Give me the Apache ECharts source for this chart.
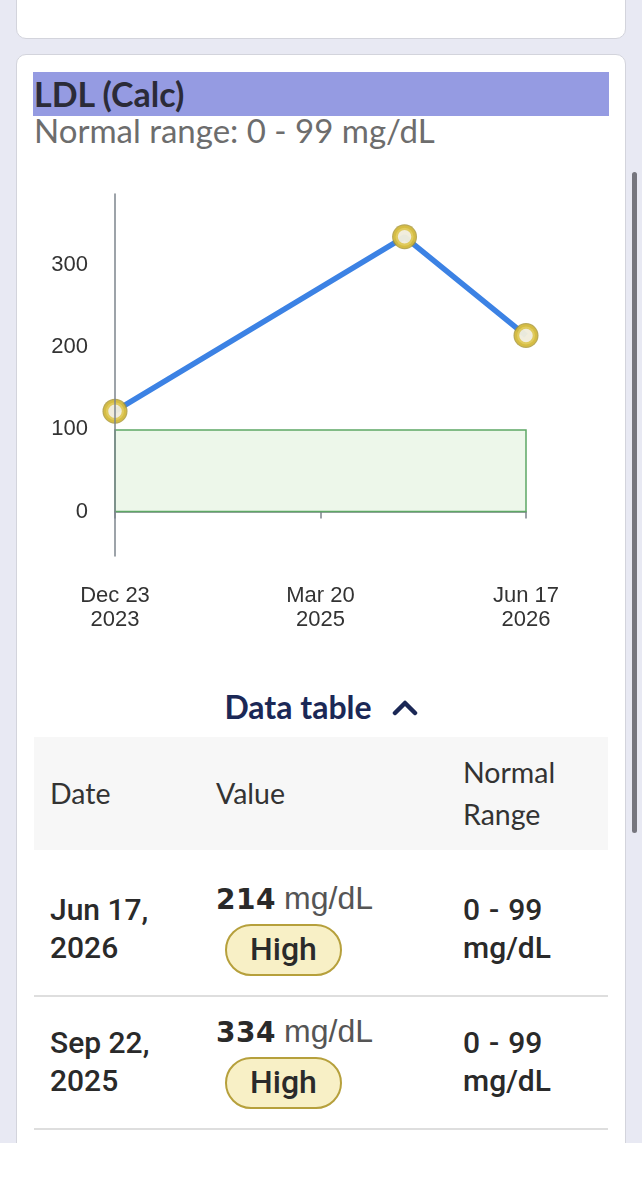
<!DOCTYPE html>
<html>
<head>
<meta charset="utf-8">
<script src="https://cdn.jsdelivr.net/npm/echarts@6/dist/echarts.min.js"></script>
<style>
  html, body { margin: 0; padding: 0; width: 642px; height: 1200px; overflow: hidden; background: #e8e9f3; }
  body { position: relative; font-family: Lato, "Noto Sans", sans-serif; color: #333; }
  .abs { position: absolute; white-space: nowrap; }
  .card { position: absolute; left: 16px; width: 608px; background: #fff; border: 1px solid #d3d4dc; border-radius: 10px; }
  #title { left: 33px; top: 72px; width: 576px; height: 44px; background: #959be2; }
  #titleText { left: 34px; top: 77px; font-size: 34px; line-height: 34px; font-weight: 700; color: #2b2b38; }
  #rangeText { left: 34px; top: 114px; font-size: 33px; line-height: 33px; color: #6d6d6d; }
  #chart { position: absolute; left: 16px; top: 150px; width: 610px; height: 520px; }
  #toggle { left: 0; width: 642px; top: 691px; text-align: center; font-size: 32px; line-height: 32px; font-weight: 700; color: #1b2856; }
  #toggle svg { margin-left: 20px; vertical-align: 3px; }
  #thead { left: 34px; top: 737px; width: 574px; height: 113px; background: #f7f7f7; }
  .th { font-size: 28.5px; line-height: 28.5px; color: #333; }
  .td { font-family: Roboto, "Liberation Sans", sans-serif; font-weight: 500; font-size: 30px; line-height: 38px; color: #2a2a2a; }
  .num { font-family: "DejaVu Sans", sans-serif; font-weight: 700; font-size: 28px; color: #2a2a2a; letter-spacing: 0.5px; }
  .unit { font-family: "Liberation Sans", sans-serif; font-size: 32px; color: #555; margin-left: 4px; }
  .badge { box-sizing: border-box; width: 117px; height: 52px; border-radius: 26px; background: #f8f0c6; border: 2.5px solid #b6a03c;
           font-family: Roboto, sans-serif; font-weight: 500; font-size: 32px; line-height: 47px; text-align: center; color: #2a2a2a; }
  .sep { left: 34px; width: 574px; height: 2px; background: #dedede; }
</style>
</head>
<body>
<div class="card" style="top:-30px;height:67px;"></div>
<div class="card" style="top:54px;height:1120px;"></div>

<div id="title" class="abs"></div>
<div id="titleText" class="abs">LDL (Calc)</div>
<div id="rangeText" class="abs">Normal range: 0 - 99 mg/dL</div>

<div id="chart"></div>

<div id="toggle" class="abs">Data table<svg width="26" height="16" viewBox="0 0 26 16"><polyline points="3,13 13,3 23,13" fill="none" stroke="#1b2856" stroke-width="4.5" stroke-linecap="round" stroke-linejoin="round"/></svg></div>

<div id="thead" class="abs"></div>
<div class="abs th" style="left:50px;top:779px;">Date</div>
<div class="abs th" style="left:216px;top:779px;">Value</div>
<div class="abs th" style="left:463px;top:751px;line-height:42px;">Normal<br>Range</div>

<div id="rows"></div>

<div class="abs" style="left:0;top:1143px;width:642px;height:57px;background:#fff;"></div>
<div class="abs" style="left:632px;top:172px;width:5px;height:661px;background:#76767e;border-radius:3px;"></div>

<script>
// data
const dates = ['2023-12-23', '2025-09-22', '2026-06-17'];
const values = [122, 334, 214];
const flags = ['High', 'High', 'High'];
const normalRange = [0, 99];
const unit = 'mg/dL';
const xTickLabels = ['Dec 23\n2023', 'Mar 20\n2025', 'Jun 17\n2026'];
const yTicks = [0, 100, 200, 300];
const yExtent = [-54, 386];
const monthNames = ['Jan', 'Feb', 'Mar', 'Apr', 'May', 'Jun', 'Jul', 'Aug', 'Sep', 'Oct', 'Nov', 'Dec'];

const xs = dates.map(d => Date.parse(d + 'T00:00:00Z'));
const points = xs.map((x, i) => [x, values[i]]);
const xMin = xs[0];
const xMax = xs[xs.length - 1];

const axisColor = '#7d848c';
const labelFont = { fontFamily: 'Liberation Sans', fontSize: 22, color: '#333' };

const chart = echarts.init(document.getElementById('chart'));
chart.setOption({
  animation: false,
  grid: { left: 99, right: 100, top: 44, bottom: 114 },
  xAxis: {
    type: 'value',
    min: xMin,
    max: xMax,
    interval: (xMax - xMin) / 2,
    axisLine: { lineStyle: { color: axisColor, width: 1.5 } },
    axisTick: { show: true, length: 7, lineStyle: { color: axisColor, width: 1.5 } },
    splitLine: { show: false },
    axisLabel: Object.assign({ margin: 28, lineHeight: 24, formatter: (v, i) => xTickLabels[i] || '' }, labelFont)
  },
  yAxis: {
    type: 'value',
    min: yExtent[0],
    max: yExtent[1],
    z: 10,
    axisLine: { show: true, lineStyle: { color: axisColor, width: 1.5 } },
    axisTick: { show: false },
    splitLine: { show: false },
    axisLabel: Object.assign({ margin: 27, formatter: v => yTicks.includes(v) ? String(v) : '' }, labelFont)
  },
  series: [
    {
      type: 'line',
      data: points,
      showSymbol: false,
      lineStyle: { color: '#3c82e4', width: 5.5 },
      markArea: {
        silent: true,
        itemStyle: { color: '#edf7ea', borderColor: '#5ea865', borderWidth: 1.5 },
        data: [[{ xAxis: xMin, yAxis: normalRange[0] }, { xAxis: xMax, yAxis: normalRange[1] }]]
      }
    },
    // dark outer edge of the markers
    { type: 'scatter', data: points, symbolSize: 25, itemStyle: { color: '#a8942e' }, z: 3 },
    { type: 'scatter', data: points, symbolSize: 18, itemStyle: { color: '#fff', borderColor: '#dcc23e', borderWidth: 4.5 }, z: 4 }
  ]
});

// data table, newest first
const rowsEl = document.getElementById('rows');
const order = dates.map((d, i) => i).reverse();
order.forEach((idx, r) => {
  const y = 891 + r * 133;
  const d = new Date(xs[idx]);
  const dateTxt = monthNames[d.getUTCMonth()] + ' ' + d.getUTCDate() + ',<br>' + d.getUTCFullYear();
  rowsEl.insertAdjacentHTML('beforeend',
    `<div class="abs td" style="left:50px;top:${y}px;">${dateTxt}</div>` +
    `<div class="abs" style="left:216px;top:${y - 12}px;line-height:38px;"><span class="num">${values[idx]}</span> <span class="unit">${unit}</span></div>` +
    `<div class="abs badge" style="left:225px;top:${y + 33}px;">${flags[idx]}</div>` +
    `<div class="abs td" style="left:463px;top:${y}px;word-spacing:1.5px;">${normalRange[0]} - ${normalRange[1]}<br>${unit}</div>` +
    `<div class="abs sep" style="top:${y + 104}px;"></div>`);
});
</script>
</body>
</html>
